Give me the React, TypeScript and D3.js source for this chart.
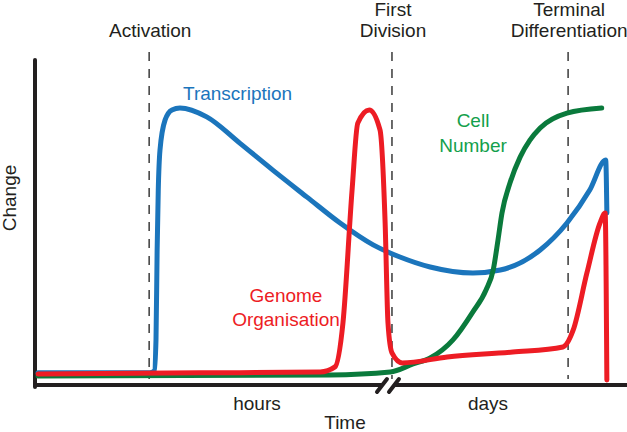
import React, { useRef, useEffect } from 'react';
import * as d3 from 'd3';

// time (0-100, arbitrary) vs change (0-100, arbitrary)
const transcription: [number, number][] = [
  [0, 1.9], [19.6, 1.9], [20.4, 2.6], [20.7, 14.1], [20.9, 47.4], [21.1, 69.6],
  [21.4, 84.4], [22.3, 95.6], [23.5, 99.3], [24.9, 100], [29.6, 96.7], [35.4, 87.0],
  [41.2, 77.0], [47.2, 67.0], [53.0, 57.4], [58.8, 49.3], [63.5, 44.8], [68.8, 41.1],
  [76.3, 38.9], [81.1, 40.0], [88.1, 47.4], [92.8, 57.4], [96.8, 69.6], [99.6, 80.7],
  [99.8, 61.1],
];
const genomeOrganisation: [number, number][] = [
  [0, 1.5], [28.4, 1.9], [49.5, 2.2], [52.1, 4.1], [53.5, 20.4], [55.1, 69.6],
  [56.1, 94.4], [58.1, 99.3], [60.0, 91.9], [60.9, 57.4], [61.4, 20.4], [62.1, 9.3],
  [63.9, 5.6], [71.8, 7.8], [83.3, 9.6], [92.1, 11.5], [93.9, 17.8], [96.3, 38.9],
  [98.6, 57.4], [99.5, 61.1], [99.8, -0.7],
];
const cellNumber: [number, number][] = [
  [0, 0.7], [51.2, 1.1], [61.8, 2.2], [65.8, 5.2], [68.8, 7.4], [72.8, 14.1],
  [76.3, 24.5], [78.6, 32.6], [79.9, 40.4], [80.7, 51.1], [81.4, 61.1], [82.8, 72.2],
  [84.6, 81.9], [86.3, 88.1], [88.1, 92.6], [92.8, 98.1], [98.9, 100],
];
const milestones = [19.5, 62.1, 93.0];
const milestoneLabels = [['Activation'], ['First', 'Division'], ['Terminal', 'Differentiation']];
const axisBreak = 61.4;
const timeLabels = ['hours', 'days'];

const width = 627;
const height = 432;
const ink = '#231f20';

const App = () => {
  const svgRef = useRef<SVGSVGElement>(null);

  useEffect(() => {
    const svg = d3.select(svgRef.current);
    svg.selectAll('*').remove();

    const x = d3.scaleLinear().domain([0, 100]).range([38, 608]);
    const y = d3.scaleLinear().domain([0, 100]).range([378, 108]);
    const line = d3.line<[number, number]>()
      .x(d => x(d[0]))
      .y(d => y(d[1]))
      .curve(d3.curveMonotoneX);

    const g = svg.append('g')
      .attr('font-family', '"Liberation Sans", Arial, sans-serif')
      .attr('font-size', 19);

    // milestone dashed lines
    g.selectAll('line.milestone')
      .data(milestones)
      .join('line')
      .attr('class', 'milestone')
      .attr('x1', d => x(d)).attr('x2', d => x(d))
      .attr('y1', 52).attr('y2', 379)
      .attr('stroke', '#3a3a3a')
      .attr('stroke-width', 1.5)
      .attr('stroke-dasharray', '9,8');

    g.selectAll('text.milestone')
      .data(milestoneLabels)
      .join('text')
      .attr('class', 'milestone')
      .attr('text-anchor', 'middle')
      .attr('fill', ink)
      .attr('transform', (d, i) => `translate(${x(milestones[i]) + 1},${37 - (d.length - 1) * 21})`)
      .selectAll('tspan')
      .data(d => d)
      .join('tspan')
      .attr('x', 0)
      .attr('dy', (d, i) => (i === 0 ? 0 : 21))
      .text(d => d);

    // axes
    const ax = 35;
    const ay = 385;
    const bx = x(axisBreak);
    g.append('line').attr('x1', ax).attr('x2', ax).attr('y1', 60).attr('y2', ay + 2)
      .attr('stroke', ink).attr('stroke-width', 4).attr('stroke-linecap', 'round');
    g.append('line').attr('x1', ax - 2).attr('x2', bx - 5).attr('y1', ay).attr('y2', ay)
      .attr('stroke', ink).attr('stroke-width', 4);
    g.append('line').attr('x1', bx + 6).attr('x2', width).attr('y1', ay).attr('y2', ay)
      .attr('stroke', ink).attr('stroke-width', 4);
    g.selectAll('line.break')
      .data([-6, 6])
      .join('line')
      .attr('class', 'break')
      .attr('x1', d => bx + d - 5).attr('x2', d => bx + d + 5)
      .attr('y1', ay + 7).attr('y2', ay - 6)
      .attr('stroke', ink).attr('stroke-width', 4).attr('stroke-linecap', 'round');

    g.selectAll('text.time')
      .data(timeLabels)
      .join('text')
      .attr('class', 'time')
      .attr('text-anchor', 'middle')
      .attr('fill', ink)
      .attr('x', (d, i) => (i === 0 ? 257 : 488))
      .attr('y', 410)
      .text(d => d);
    g.append('text').attr('text-anchor', 'middle').attr('fill', ink)
      .attr('x', 345).attr('y', 429).text('Time');
    g.append('text').attr('text-anchor', 'middle').attr('fill', ink)
      .attr('transform', 'translate(16,198) rotate(-90)').text('Change');

    // curves
    const series = [
      { data: transcription, color: '#1b75bc' },
      { data: cellNumber, color: '#0a7a3c' },
      { data: genomeOrganisation, color: '#ed1c24' },
    ];
    g.selectAll('path.curve')
      .data(series)
      .join('path')
      .attr('class', 'curve')
      .attr('d', d => line(d.data))
      .attr('fill', 'none')
      .attr('stroke', d => d.color)
      .attr('stroke-width', 5)
      .attr('stroke-linejoin', 'round')
      .attr('stroke-linecap', 'round');

    // curve labels
    g.append('text').attr('fill', '#1b75bc').attr('x', 183).attr('y', 100).text('Transcription');
    g.append('text').attr('fill', '#13a04c').attr('text-anchor', 'middle')
      .selectAll('tspan')
      .data(['Cell', 'Number'])
      .join('tspan')
      .attr('x', 473)
      .attr('y', (d, i) => 127 + i * 25)
      .text(d => d);
    g.append('text').attr('fill', '#ed1c24').attr('text-anchor', 'middle')
      .selectAll('tspan')
      .data(['Genome', 'Organisation'])
      .join('tspan')
      .attr('x', 286)
      .attr('y', (d, i) => 302 + i * 24)
      .text(d => d);
  }, []);

  return (
    <svg
      ref={svgRef}
      width={width}
      height={height}
      style={{ position: 'absolute', left: 0, top: 0, background: '#fff' }}
    />
  );
};

export default App;
